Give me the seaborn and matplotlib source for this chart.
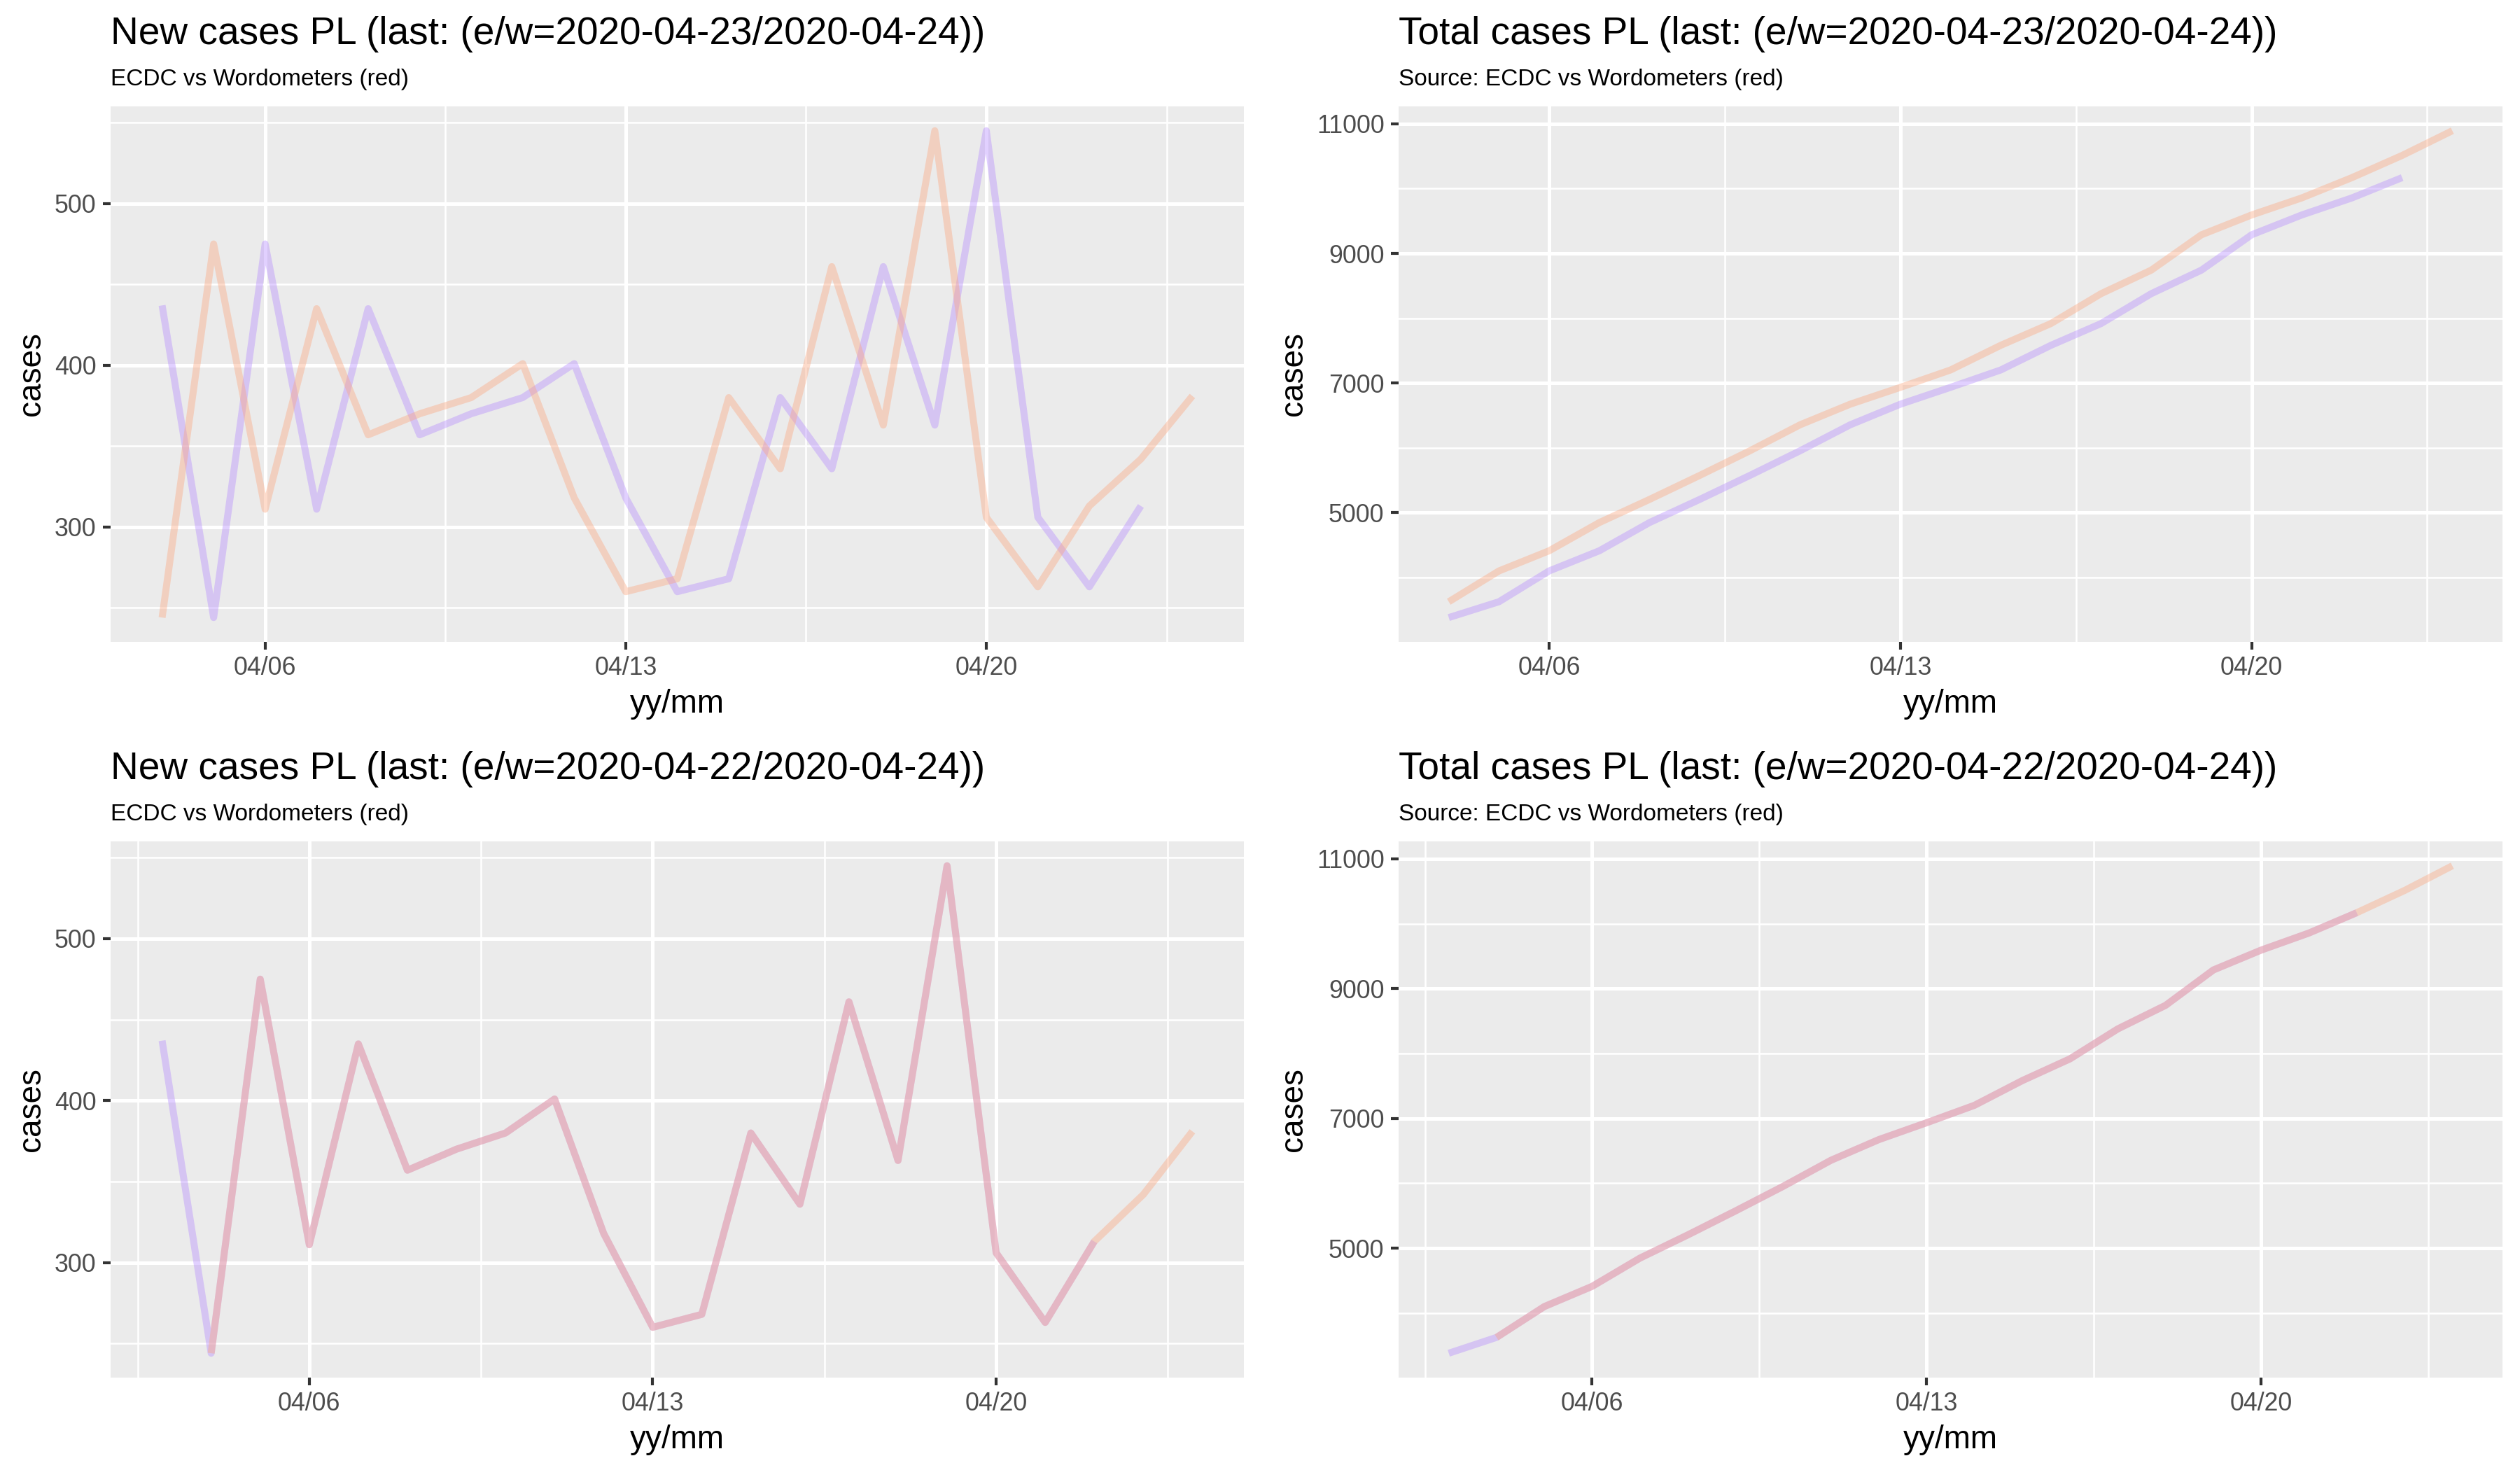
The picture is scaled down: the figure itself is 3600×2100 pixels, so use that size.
import pandas as pd
import numpy as np
import matplotlib
matplotlib.use("Agg")
import matplotlib.pyplot as plt
import matplotlib.dates as mdates
import seaborn as sns

# --- data (Poland, ECDC vs Worldometers) ---
ecdc_new = [437, 244, 475, 311, 435, 357, 370, 380, 401, 318, 260, 268, 380, 336, 461, 363, 545, 306, 263, 313]
wom_new = [244, 475, 311, 435, 357, 370, 380, 401, 318, 260, 268, 380, 336, 461, 363, 545, 306, 263, 313, 342, 381]
ecdc_total = [3383, 3627, 4102, 4413, 4848, 5205, 5575, 5955, 6356, 6674, 6934, 7202, 7582, 7918, 8379, 8742, 9287, 9593,
              9856, 10169]
wom_total = [3627, 4102, 4413, 4848, 5205, 5575, 5955, 6356, 6674, 6934, 7202, 7582, 7918, 8379, 8742, 9287, 9593, 9856,
             10169, 10511, 10892]

ecdc_dates_top = pd.date_range("2020-04-04", "2020-04-23")   # e/w = 04-23 / 04-24
ecdc_dates_bot = pd.date_range("2020-04-03", "2020-04-22")   # e/w = 04-22 / 04-24
wom_dates = pd.date_range("2020-04-04", "2020-04-24")

x_major = pd.to_datetime(["2020-04-06", "2020-04-13", "2020-04-20"])
x_minor = pd.to_datetime(["2020-04-02 12:00", "2020-04-09 12:00", "2020-04-16 12:00", "2020-04-23 12:00"])
new_major, new_minor = [300, 400, 500], [250, 350, 450, 550]
tot_major, tot_minor = [5000, 7000, 9000, 11000], [4000, 6000, 8000, 10000]

ECDC_COL = "#b48aff"
WOM_COL = "#fca57f"
BG = "#ebebeb"

sns.set_theme(style="darkgrid", rc={"axes.facecolor": BG})
plt.rcParams["font.family"] = ["Liberation Sans", "DejaVu Sans"]

fig = plt.figure(figsize=(12, 7), dpi=300)

W, H = 3600, 2100
panels = [
    # left, top, right, bottom (pixels)
    dict(box=(158, 152, 1777, 917), title="New cases PL (last: (e/w=2020-04-23/2020-04-24))",
         sub="ECDC vs Wordometers (red)", e=(ecdc_dates_top, ecdc_new), w=(wom_dates, wom_new),
         major=new_major, minor=new_minor),
    dict(box=(1998, 152, 3575, 917), title="Total cases PL (last: (e/w=2020-04-23/2020-04-24))",
         sub="Source: ECDC vs Wordometers (red)", e=(ecdc_dates_top, ecdc_total), w=(wom_dates, wom_total),
         major=tot_major, minor=tot_minor),
    dict(box=(158, 1202, 1777, 1968), title="New cases PL (last: (e/w=2020-04-22/2020-04-24))",
         sub="ECDC vs Wordometers (red)", e=(ecdc_dates_bot, ecdc_new), w=(wom_dates, wom_new),
         major=new_major, minor=new_minor),
    dict(box=(1998, 1202, 3575, 1968), title="Total cases PL (last: (e/w=2020-04-22/2020-04-24))",
         sub="Source: ECDC vs Wordometers (red)", e=(ecdc_dates_bot, ecdc_total), w=(wom_dates, wom_total),
         major=tot_major, minor=tot_minor),
]

for p in panels:
    l, t, r, b = p["box"]
    ax = fig.add_axes([l / W, 1 - b / H, (r - l) / W, (b - t) / H])
    ax.set_facecolor(BG)

    sns.lineplot(x=p["e"][0], y=p["e"][1], ax=ax, color=ECDC_COL, alpha=0.4, linewidth=2.4)
    sns.lineplot(x=p["w"][0], y=p["w"][1], ax=ax, color=WOM_COL, alpha=0.4, linewidth=2.4)
    for ln in ax.lines:
        ln.set_solid_joinstyle("round")
        ln.set_solid_capstyle("butt")

    ax.set_xticks(x_major)
    ax.set_xticks(x_minor, minor=True)
    ax.xaxis.set_major_formatter(mdates.DateFormatter("%m/%d"))
    ax.set_yticks(p["major"])
    ax.set_yticks(p["minor"], minor=True)

    # ggplot-like 5% expansion (after ticks, so ticks don't widen the range)
    xs = list(p["e"][0]) + list(p["w"][0])
    x0, x1 = mdates.date2num(min(xs)), mdates.date2num(max(xs))
    dx = (x1 - x0) * 0.05
    ax.set_xlim(x0 - dx, x1 + dx)
    ys = list(p["e"][1]) + list(p["w"][1])
    dy = (max(ys) - min(ys)) * 0.05
    ax.set_ylim(min(ys) - dy, max(ys) + dy)

    ax.grid(which="major", color="white", linewidth=1.2)
    ax.grid(which="minor", color="white", linewidth=0.6)
    ax.tick_params(which="major", length=2.7, width=1.0, color="#333333", pad=2.2,
                   labelsize=8.6, labelcolor="#4d4d4d", bottom=True, left=True)
    ax.tick_params(which="minor", length=0)
    for s in ax.spines.values():
        s.set_visible(False)

    ax.set_xlabel("yy/mm", fontsize=11, color="black", labelpad=2.7)
    ax.set_ylabel("cases", fontsize=11, color="black", labelpad=2.7)

    fig.text(l / W, 1 - (t - 89) / H, p["title"], fontsize=13.2, color="black", va="baseline", ha="left")
    fig.text(l / W, 1 - (t - 30) / H, p["sub"], fontsize=8.0, color="black", va="baseline", ha="left")

fig.savefig("out.png", dpi=300)
